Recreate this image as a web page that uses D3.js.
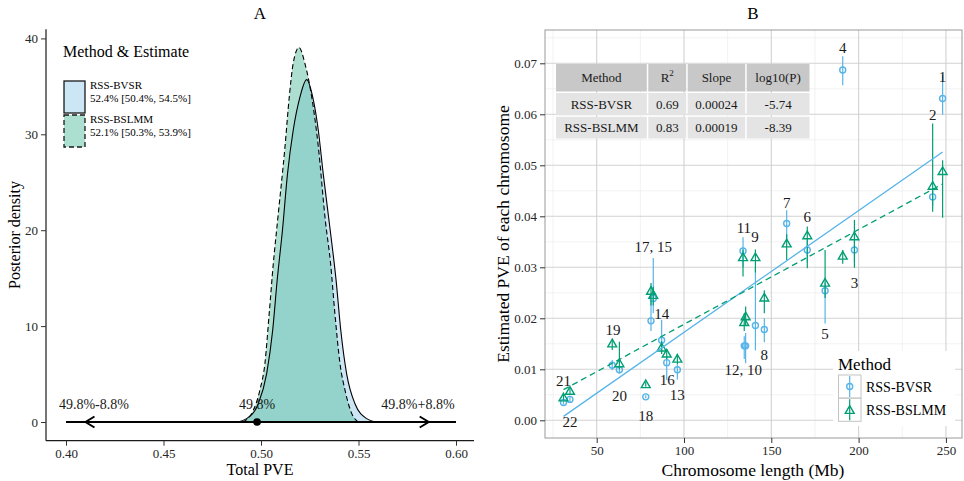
<!DOCTYPE html>
<html>
<head>
<meta charset="utf-8">
<script src="https://cdn.jsdelivr.net/npm/d3@7"></script>
<style>
  body { margin: 0; background: #fff; }
  svg { display: block; }
</style>
</head>
<body>
<div id="chart"></div>
<script>
// ---- Panel A: posterior densities of total PVE ----
const bvsrPve  = [0.4875, 0.4926, 0.4986, 0.5029, 0.5060, 0.5083, 0.5110, 0.5136, 0.5165, 0.5200, 0.5234,
                  0.5265, 0.5294, 0.5319, 0.5355, 0.5385, 0.5409, 0.5439, 0.5482, 0.5542, 0.5593];
const bvsrDens = [0, 0.35, 1.9, 5.05, 9.6, 14.8, 20.0, 25.9, 30.4, 33.9, 35.7,
                  33.9, 30.4, 25.9, 20.0, 14.8, 9.6, 5.05, 1.9, 0.35, 0];
const bslmmPve  = [0.4907, 0.4960, 0.4994, 0.5020, 0.5042, 0.5063, 0.5085, 0.5123, 0.5145, 0.5165, 0.5195,
                   0.5225, 0.5260, 0.5294, 0.5330, 0.5357, 0.5379, 0.5405, 0.5431, 0.5465, 0.5499];
const bslmmDens = [0, 1.2, 3.3, 6.1, 11.3, 16.5, 21.0, 28.7, 33.9, 37.4, 39.06,
                   37.4, 33.9, 28.7, 21.0, 16.5, 11.3, 6.1, 3.3, 0.9, 0];

const legendA = [
    { name: "RSS-BVSR", est: "52.4% [50.4%, 54.5%]" },
    { name: "RSS-BSLMM", est: "52.1% [50.3%, 53.9%]" }
];
// reference value and +/- range for the arrow
const refPve = 0.498;
const refHalf = 0.088;
const refLabels = ["49.8%-8.8%", "49.8%", "49.8%+8.8%"];
const refLabelPve = [0.4143, 0.498, 0.5805];
const xTicksA = [0.40, 0.45, 0.50, 0.55, 0.60];
const yTicksA = [0, 10, 20, 30, 40];

// ---- Panel B: per-chromosome PVE ----
const chroms = ["1","2","3","4","5","6","7","8","9","10","11","12","13","14","15","16","17","18","19","20","21","22"];
const chromLen = [248.1, 242.4, 197.6, 190.9, 180.8, 170.6, 158.8, 146.0, 140.9, 135.3, 133.8,
                  134.5, 96.2, 87.2, 82.4, 90.1, 81.1, 78.1, 58.9, 63.0, 34.7, 31.0];
const bvsrEst = [0.0631, 0.0438, 0.0334, 0.0687, 0.0254, 0.0334, 0.0386, 0.0178, 0.0186, 0.0146, 0.0332,
                 0.0146, 0.0099, 0.0157, 0.0239, 0.0113, 0.0195, 0.0046, 0.0108, 0.0099, 0.0041, 0.0035];
const bvsrLo  = [0.0599, 0.0420, 0.0310, 0.0657, 0.0190, 0.0310, 0.0350, 0.0153, 0.0137, 0.0112, 0.0300,
                 0.0120, 0.0080, 0.0135, 0.0210, 0.0079, 0.0175, 0.0043, 0.0098, 0.0092, 0.0036, 0.0031];
const bvsrHi  = [0.0677, 0.0455, 0.0360, 0.0714, 0.0270, 0.0355, 0.0412, 0.0200, 0.0300, 0.0171, 0.0359,
                 0.0165, 0.0110, 0.0197, 0.0318, 0.0125, 0.0235, 0.0049, 0.0118, 0.0106, 0.0046, 0.0040];
const bslmmEst = [0.0489, 0.0460, 0.0361, 0.0323, 0.0270, 0.0363, 0.0347, 0.0241, 0.0320, 0.0204, 0.0320,
                  0.0193, 0.0121, 0.0143, 0.0246, 0.0131, 0.0254, 0.0071, 0.0151, 0.0112, 0.0058, 0.0045];
const bslmmLo  = [0.0397, 0.0409, 0.0299, 0.0307, 0.0240, 0.0298, 0.0314, 0.0210, 0.0290, 0.0185, 0.0282,
                  0.0175, 0.0110, 0.0130, 0.0225, 0.0120, 0.0225, 0.0066, 0.0138, 0.0100, 0.0052, 0.0040];
const bslmmHi  = [0.0510, 0.0582, 0.0393, 0.0334, 0.0334, 0.0380, 0.0365, 0.0255, 0.0335, 0.0223, 0.0335,
                  0.0210, 0.0130, 0.0155, 0.0262, 0.0140, 0.0269, 0.0076, 0.0158, 0.0154, 0.0064, 0.0050];

// chromosome labels (text, anchor in data units)
const labelText = ["1","2","3","4","5","6","7","8","9","11","12, 10","13","14","17, 15","16","18","19","20","21","22"];
const labelLen  = [248.1, 242.4, 197.6, 190.9, 180.8, 170.6, 158.8, 146.0, 140.7, 134.3, 134.0, 96.2, 87.2, 82.4, 90.4, 78.1, 59.4, 63.0, 31.0, 34.7];
const labelPve  = [0.0674, 0.0599, 0.0270, 0.0730, 0.0169, 0.0399, 0.0426, 0.0128, 0.0359, 0.0378, 0.0098, 0.0049, 0.0208, 0.0339, 0.0079, 0.0008, 0.0178, 0.0048, 0.0078, -0.0003];

const tableHeader = ["Method", "R2", "Slope", "log10(P)"];
const tableMethod = ["RSS-BVSR", "RSS-BSLMM"];
const tableR2 = ["0.69", "0.83"];
const tableSlope = ["0.00024", "0.00019"];
const tableLogP = ["-5.74", "-8.39"];

const xTicksB = [50, 100, 150, 200, 250];
const yTicksB = [0, 0.01, 0.02, 0.03, 0.04, 0.05, 0.06, 0.07];

const blue = "#56B4E9";
const green = "#009E73";
const serif = "'Liberation Serif', 'Times New Roman', serif";

const svg = d3.select("#chart").append("svg")
    .attr("width", 964)
    .attr("height", 481)
    .style("font-family", serif);

// ================= Panel A =================
const xA = d3.scaleLinear().domain([0.39, 0.61]).range([46.5, 475.5]);
const yA = d3.scaleLinear().domain([-1.95, 40.95]).range([440.7, 29.3]);

const gA = svg.append("g");

const area = d3.area()
    .x(d => xA(d[0]))
    .y0(yA(0))
    .y1(d => yA(d[1]))
    .curve(d3.curveMonotoneX);
const line = d3.line()
    .x(d => xA(d[0]))
    .y(d => yA(d[1]))
    .curve(d3.curveMonotoneX);

const bvsrPts = bvsrPve.map((x, i) => [x, bvsrDens[i]]);
const bslmmPts = bslmmPve.map((x, i) => [x, bslmmDens[i]]);

gA.append("path").attr("d", area(bvsrPts)).style("fill", "#cce6f5");
gA.append("path").attr("d", area(bslmmPts)).style("fill", "#59bfa1").style("fill-opacity", 0.5);
gA.append("path").attr("d", line(bvsrPts))
    .style("fill", "none").style("stroke", "#000").style("stroke-width", 1.1);
gA.append("path").attr("d", line(bslmmPts))
    .style("fill", "none").style("stroke", "#000").style("stroke-width", 1.1)
    .style("stroke-dasharray", "5,3");

// reference arrow
gA.append("line")
    .attr("x1", xA(0.40)).attr("x2", xA(0.60))
    .attr("y1", yA(0)).attr("y2", yA(0))
    .style("stroke", "#000").style("stroke-width", 2);
[refPve - refHalf, refPve + refHalf].forEach((v, i) => {
    const dir = i === 0 ? 1 : -1;
    const px = xA(v), py = yA(0);
    gA.append("path")
        .attr("d", `M${px + dir * 9},${py - 5.5} L${px},${py} L${px + dir * 9},${py + 5.5}`)
        .style("fill", "none").style("stroke", "#000").style("stroke-width", 2);
});
gA.append("circle").attr("cx", xA(refPve)).attr("cy", yA(0)).attr("r", 3.8).style("fill", "#000");
gA.selectAll(".refLabel")
    .data(refLabels)
    .enter().append("text")
    .attr("x", (d, i) => xA(refLabelPve[i]))
    .attr("y", yA(0) - 13)
    .attr("text-anchor", "middle")
    .style("font-size", "14px")
    .style("fill", "#1a1a1a")
    .text(d => d);

// axes A
const axisLeftA = gA.append("g")
    .attr("transform", "translate(46,0)")
    .call(d3.axisLeft(yA).tickValues(yTicksA).tickSize(5).tickSizeOuter(0).tickPadding(3));
const axisBottomA = gA.append("g")
    .attr("transform", "translate(0,440.7)")
    .call(d3.axisBottom(xA).tickValues(xTicksA).tickFormat(d3.format(".2f")).tickSize(5).tickSizeOuter(0).tickPadding(3));
axisLeftA.select(".domain").attr("d", "M0,29.3V440.7");
axisBottomA.select(".domain").attr("d", "M46,0H474");
[axisLeftA, axisBottomA].forEach(ax => {
    ax.selectAll("text").style("font-family", serif).style("font-size", "13px").style("fill", "#262626");
    ax.selectAll("line").style("stroke", "#333");
    ax.select(".domain").style("stroke", "#1a1a1a").style("stroke-width", 1.2);
});

gA.append("text").attr("x", 260).attr("y", 19).attr("text-anchor", "middle")
    .style("font-size", "17px").text("A");
gA.append("text").attr("x", 260).attr("y", 475).attr("text-anchor", "middle")
    .style("font-size", "16px").text("Total PVE");
gA.append("text").attr("transform", "translate(20,235) rotate(-90)").attr("text-anchor", "middle")
    .style("font-size", "16px").text("Posterior density");

// legend A
gA.append("text").attr("x", 63).attr("y", 57).style("font-size", "16px").text("Method & Estimate");
const legKeyFill = ["#cce6f5", "#acdfd0"];
legendA.forEach((d, i) => {
    const ky = 81 + i * 34;
    gA.append("rect").attr("x", 64).attr("y", ky).attr("width", 21).attr("height", 32)
        .style("fill", legKeyFill[i]).style("stroke", "#1a1a1a").style("stroke-width", 1.3)
        .style("stroke-dasharray", i === 1 ? "5,3" : null);
    gA.append("text").attr("x", 90).attr("y", ky + 8).style("font-size", "11px").text(d.name);
    gA.append("text").attr("x", 90).attr("y", ky + 21).style("font-size", "11px").text(d.est);
});

// ================= Panel B =================
const pLeft = 545, pRight = 962, pTop = 30, pBottom = 438;
const xB = d3.scaleLinear().domain([20.4, 259.2]).range([pLeft, pRight]);
const yB = d3.scaleLinear().domain([-0.00347, 0.07653]).range([pBottom, pTop]);

const gB = svg.append("g");
gB.append("rect").attr("x", pLeft).attr("y", pTop).attr("width", pRight - pLeft).attr("height", pBottom - pTop)
    .style("fill", "#fff");

// grid
const xMinor = [25, 75, 125, 175, 225];
const yMinor = [0.005, 0.015, 0.025, 0.035, 0.045, 0.055, 0.065, 0.075];
gB.selectAll(".minorX").data(xMinor).enter().append("line")
    .attr("x1", d => xB(d)).attr("x2", d => xB(d)).attr("y1", pTop).attr("y2", pBottom)
    .style("stroke", "#efefef").style("stroke-width", 0.8);
gB.selectAll(".minorY").data(yMinor).enter().append("line")
    .attr("y1", d => yB(d)).attr("y2", d => yB(d)).attr("x1", pLeft).attr("x2", pRight)
    .style("stroke", "#efefef").style("stroke-width", 0.8);
gB.selectAll(".majorX").data(xTicksB).enter().append("line")
    .attr("x1", d => xB(d)).attr("x2", d => xB(d)).attr("y1", pTop).attr("y2", pBottom)
    .style("stroke", "#d2d2d2").style("stroke-width", 1.1);
gB.selectAll(".majorY").data(yTicksB).enter().append("line")
    .attr("y1", d => yB(d)).attr("y2", d => yB(d)).attr("x1", pLeft).attr("x2", pRight)
    .style("stroke", "#d2d2d2").style("stroke-width", 1.1);

// table
const colX = [556, 648.3, 687.7, 746.7, 811];
const rowY = [64, 93, 116.8, 140];
const cells = [tableHeader,
    [tableMethod[0], tableR2[0], tableSlope[0], tableLogP[0]],
    [tableMethod[1], tableR2[1], tableSlope[1], tableLogP[1]]];
cells.forEach((row, r) => {
    row.forEach((txt, c) => {
        gB.append("rect")
            .attr("x", colX[c]).attr("y", rowY[r])
            .attr("width", colX[c + 1] - colX[c] - 1.5).attr("height", rowY[r + 1] - rowY[r] - 1.5)
            .style("fill", r === 0 ? "#c8c8c8" : "#e4e4e4");
        const t = gB.append("text")
            .attr("x", (colX[c] + colX[c + 1] - 1.5) / 2)
            .attr("y", (rowY[r] + rowY[r + 1] - 1.5) / 2 + 4.5)
            .attr("text-anchor", "middle")
            .style("font-size", "13px").style("fill", "#1a1a1a");
        if (txt === "R2") {
            t.append("tspan").text("R");
            t.append("tspan").attr("dy", -6).style("font-size", "9px").text("2");
        } else {
            t.text(txt);
        }
    });
});

// error bars + points
function series(est, lo, hi) {
    return chroms.map((c, i) => ({ chrom: c, len: chromLen[i], est: est[i], lo: lo[i], hi: hi[i] }));
}
const bvsrData = series(bvsrEst, bvsrLo, bvsrHi);
const bslmmData = series(bslmmEst, bslmmLo, bslmmHi);

gB.selectAll(".barBvsr").data(bvsrData).enter().append("line")
    .attr("x1", d => xB(d.len)).attr("x2", d => xB(d.len))
    .attr("y1", d => yB(d.lo)).attr("y2", d => yB(d.hi))
    .style("stroke", blue).style("stroke-width", 1.2);
gB.selectAll(".ptBvsr").data(bvsrData).enter().append("circle")
    .attr("cx", d => xB(d.len)).attr("cy", d => yB(d.est)).attr("r", 3)
    .style("fill", "none").style("stroke", blue).style("stroke-width", 1.4);

const tri = d3.symbol(d3.symbolTriangle).size(34);
gB.selectAll(".barBslmm").data(bslmmData).enter().append("line")
    .attr("x1", d => xB(d.len)).attr("x2", d => xB(d.len))
    .attr("y1", d => yB(d.lo)).attr("y2", d => yB(d.hi))
    .style("stroke", green).style("stroke-width", 1.2);
gB.selectAll(".ptBslmm").data(bslmmData).enter().append("path")
    .attr("d", tri)
    .attr("transform", d => `translate(${xB(d.len)},${yB(d.est) + 1})`)
    .style("fill", "none").style("stroke", green).style("stroke-width", 1.4);

// least-squares fit lines
function fit(data) {
    const mx = d3.mean(data, d => d.len), my = d3.mean(data, d => d.est);
    const b = d3.sum(data, d => (d.len - mx) * (d.est - my)) / d3.sum(data, d => (d.len - mx) ** 2);
    const ext = d3.extent(data, d => d.len);
    return ext.map(x => [x, my + b * (x - mx)]);
}
const fitLine = d3.line().x(d => xB(d[0])).y(d => yB(d[1]));
gB.append("path").attr("d", fitLine(fit(bvsrData)))
    .style("fill", "none").style("stroke", blue).style("stroke-width", 1.3);
gB.append("path").attr("d", fitLine(fit(bslmmData)))
    .style("fill", "none").style("stroke", green).style("stroke-width", 1.3).style("stroke-dasharray", "6,4");

// chromosome labels
gB.selectAll(".chromLabel").data(labelText).enter().append("text")
    .attr("x", (d, i) => xB(labelLen[i]))
    .attr("y", (d, i) => yB(labelPve[i]) + 5)
    .attr("text-anchor", "middle")
    .style("font-size", "15px").style("fill", "#1a1a1a")
    .text(d => d);

// legend B
gB.append("rect").attr("x", 833).attr("y", 351).attr("width", 122).attr("height", 75).style("fill", "#fff");
gB.append("text").attr("x", 838).attr("y", 370).style("font-size", "17px").text("Method");
const legB = [{ name: "RSS-BVSR", col: blue }, { name: "RSS-BSLMM", col: green }];
legB.forEach((d, i) => {
    const ky = 375 + i * 23.3;
    gB.append("rect").attr("x", 838.5).attr("y", ky).attr("width", 22.5).attr("height", 23)
        .style("fill", "#fff").style("stroke", "#c4c4c4").style("stroke-width", 1);
    gB.append("line").attr("x1", 849.7).attr("x2", 849.7).attr("y1", ky + 1).attr("y2", ky + 22)
        .style("stroke", d.col).style("stroke-width", 1.2);
    if (i === 0) {
        gB.append("circle").attr("cx", 849.7).attr("cy", ky + 11.5).attr("r", 3)
            .style("fill", "none").style("stroke", d.col).style("stroke-width", 1.4);
    } else {
        gB.append("path").attr("d", tri).attr("transform", `translate(849.7,${ky + 12.5})`)
            .style("fill", "none").style("stroke", d.col).style("stroke-width", 1.4);
    }
    gB.append("text").attr("x", 866).attr("y", ky + 16.5).style("font-size", "14px").text(d.name);
});

// border + axes B
gB.append("rect").attr("x", pLeft).attr("y", pTop).attr("width", pRight - pLeft).attr("height", pBottom - pTop)
    .style("fill", "none").style("stroke", "#9a9a9a").style("stroke-width", 1);
const axisLeftB = gB.append("g").attr("transform", `translate(${pLeft},0)`)
    .call(d3.axisLeft(yB).tickValues(yTicksB).tickFormat(d3.format(".2f")).tickSize(5).tickPadding(3));
const axisBottomB = gB.append("g").attr("transform", `translate(0,${pBottom})`)
    .call(d3.axisBottom(xB).tickValues(xTicksB).tickSize(5).tickPadding(3));
[axisLeftB, axisBottomB].forEach(ax => {
    ax.select(".domain").remove();
    ax.selectAll("text").style("font-family", serif).style("font-size", "13px").style("fill", "#262626");
    ax.selectAll("line").style("stroke", "#333");
});

gB.append("text").attr("x", 753).attr("y", 19).attr("text-anchor", "middle")
    .style("font-size", "17px").text("B");
gB.append("text").attr("x", 753).attr("y", 476).attr("text-anchor", "middle")
    .style("font-size", "17.5px").text("Chromosome length (Mb)");
gB.append("text").attr("transform", `translate(509,${(pTop + pBottom) / 2}) rotate(-90)`).attr("text-anchor", "middle")
    .style("font-size", "17.5px").text("Estimated PVE of each chromosome");
</script>
</body>
</html>
